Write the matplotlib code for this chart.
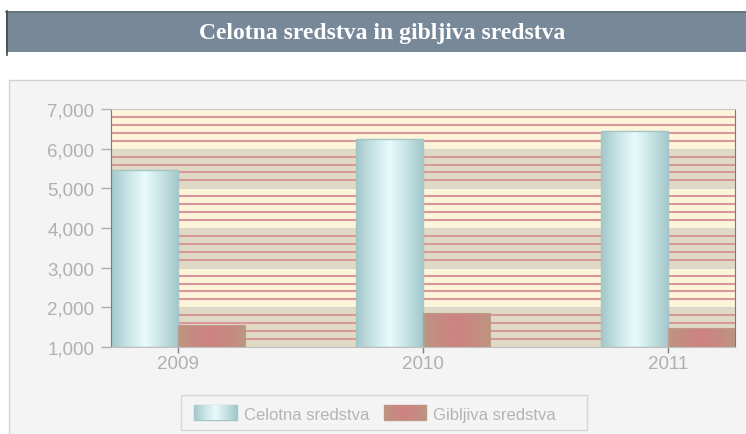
import numpy as np
import matplotlib
matplotlib.use("Agg")
import matplotlib.pyplot as plt
from matplotlib.patches import Rectangle
from matplotlib.colors import LinearSegmentedColormap
from matplotlib.ticker import FuncFormatter, MultipleLocator

# ---- data ----
years = ["2009", "2010", "2011"]
celotna = [5470, 6240, 6440]
gibljiva = [1550, 1860, 1480]
series_names = ["Celotna sredstva", "Gibljiva sredstva"]
title = "Celotna sredstva in gibljiva sredstva"
y_min, y_max = 1000, 7000

W, H = 746, 435
fig = plt.figure(figsize=(W / 100, H / 100), dpi=100)
fig.patch.set_facecolor("white")

def fx(px):
    return px / W

def fy(py):
    return 1 - py / H

# title banner
fig.patches.append(Rectangle((fx(6), fy(53)), fx(746) - fx(6), fy(12) - fy(53),
                             transform=fig.transFigure, facecolor="#778899",
                             edgecolor="none", zorder=-2))
fig.lines.append(plt.Line2D([fx(6), fx(746)], [fy(12.5), fy(12.5)], transform=fig.transFigure,
                            color="#5f7373", lw=1.2, zorder=-1))
fig.lines.append(plt.Line2D([fx(6.5), fx(6.5)], [fy(12), fy(56)], transform=fig.transFigure,
                            color="#3c4c44", lw=1.2, zorder=-1))
fig.text(fx(382), fy(33), title, color="white", fontsize=17, fontweight="bold",
         family="Liberation Serif", ha="center", va="center")

# chart panel
fig.patches.append(Rectangle((fx(8.5), fy(440)), fx(760) - fx(8.5), fy(81) - fy(440),
                             transform=fig.transFigure, facecolor="#f4f4f4",
                             edgecolor="#d2d2d2", lw=1.0, zorder=-2))

ax = fig.add_axes([fx(111), fy(348), fx(735) - fx(111), fy(110) - fy(348)])
ax.set_facecolor("none")

x = np.arange(len(years))
bw = 0.2735

# background bands
cream, grey = "#fcf5da", "#dedac6"
for i, lo in enumerate(range(y_min, y_max, 1000)):
    col = grey if i % 2 == 0 else cream
    ax.axhspan(lo, lo + 1000, color=col, zorder=0, lw=0)
for v in range(y_min, y_max + 1, 200):
    if v % 1000 == 0:
        ax.axhline(v, color="#d9d6cc", lw=0.8, zorder=0.5)
    else:
        ax.axhline(v, color="#d9979b", lw=1.5, zorder=0.5)

cm_cel = LinearSegmentedColormap.from_list("cel", ["#a2c7cb", "#c9e4e5", "#e9fbfb", "#c6e2e3", "#a2c7cb"])
cm_gib = LinearSegmentedColormap.from_list("gib", ["#bc9680", "#c78a82", "#cf8282", "#c78a82", "#bc9680"])

bars1 = ax.bar(x - bw / 2, np.array(celotna) - y_min, bw, bottom=y_min,
               facecolor="none", edgecolor="#a4c4c8", lw=1.0, zorder=3)
bars2 = ax.bar(x + bw / 2, np.array(gibljiva) - y_min, bw, bottom=y_min,
               facecolor="none", edgecolor="#c0988a", lw=0.8, zorder=3)

grad = np.linspace(0, 1, 256).reshape(1, -1)
for bars, cm in ((bars1, cm_cel), (bars2, cm_gib)):
    for p in bars:
        x0, y0 = p.get_x(), p.get_y()
        im = ax.imshow(grad, cmap=cm, aspect="auto", zorder=2,
                       extent=[x0, x0 + p.get_width(), y0, y0 + p.get_height()])
        im.set_clip_path(p)
ax.set_xlim(-bw, len(years) - 1 + bw)
ax.set_ylim(y_min, y_max)

# axes styling
ax.spines["top"].set_color("#c8c8c8")
ax.spines["left"].set_color("#7a7a7a")
ax.spines["right"].set_color("#7a7a7a")
ax.spines["bottom"].set_color("#c0c0c0")
for s in ax.spines.values():
    s.set_zorder(4)

ax.yaxis.set_major_locator(MultipleLocator(1000))
ax.yaxis.set_major_formatter(FuncFormatter(lambda v, p: f"{int(v):,}"))
ax.set_xticks(x)
ax.set_xticklabels(years)
ax.tick_params(axis="y", length=7, width=1, color="#b0b0b0", labelcolor="#b0b0b0",
               labelsize=13.5, pad=5)
ax.tick_params(axis="x", length=4, width=1, color="#808080", labelcolor="#b0b0b0",
               labelsize=13.5, pad=2)
for lab in ax.get_xticklabels() + ax.get_yticklabels():
    lab.set_family("Liberation Sans")

# legend frame (drawn as a box) and legend entries
fig.patches.append(Rectangle((fx(181), fy(431)), fx(587) - fx(181), fy(396) - fy(431),
                             transform=fig.transFigure, facecolor="#f4f4f4",
                             edgecolor="#d6d6d6", lw=1.0, zorder=-1))
h1 = Rectangle((0, 0), 1, 1, facecolor="#c9e4e5", edgecolor="#a4c4c8")
h2 = Rectangle((0, 0), 1, 1, facecolor="#c78a82", edgecolor="#c0988a")
leg = fig.legend([h1, h2], series_names, loc="center left", bbox_to_anchor=(fx(194), fy(414.5)),
                 ncol=2, frameon=False, borderpad=0, borderaxespad=0,
                 prop={"family": "Liberation Sans", "size": 12}, handlelength=2.55,
                 handleheight=1.0, handletextpad=0.42, columnspacing=0.9)
for t in leg.get_texts():
    t.set_color("#b4b4b4")

fig.canvas.draw()
inv = fig.transFigure.inverted()
for h, cm in zip(leg.legend_handles, (cm_cel, cm_gib)):
    bb = h.get_window_extent(fig.canvas.get_renderer()).transformed(inv)
    iax = fig.add_axes([bb.x0, bb.y0, bb.width, bb.height], zorder=10)
    iax.imshow(grad, cmap=cm, aspect="auto")
    iax.set_axis_off()

fig.savefig("out.png", dpi=100, facecolor=fig.get_facecolor())
